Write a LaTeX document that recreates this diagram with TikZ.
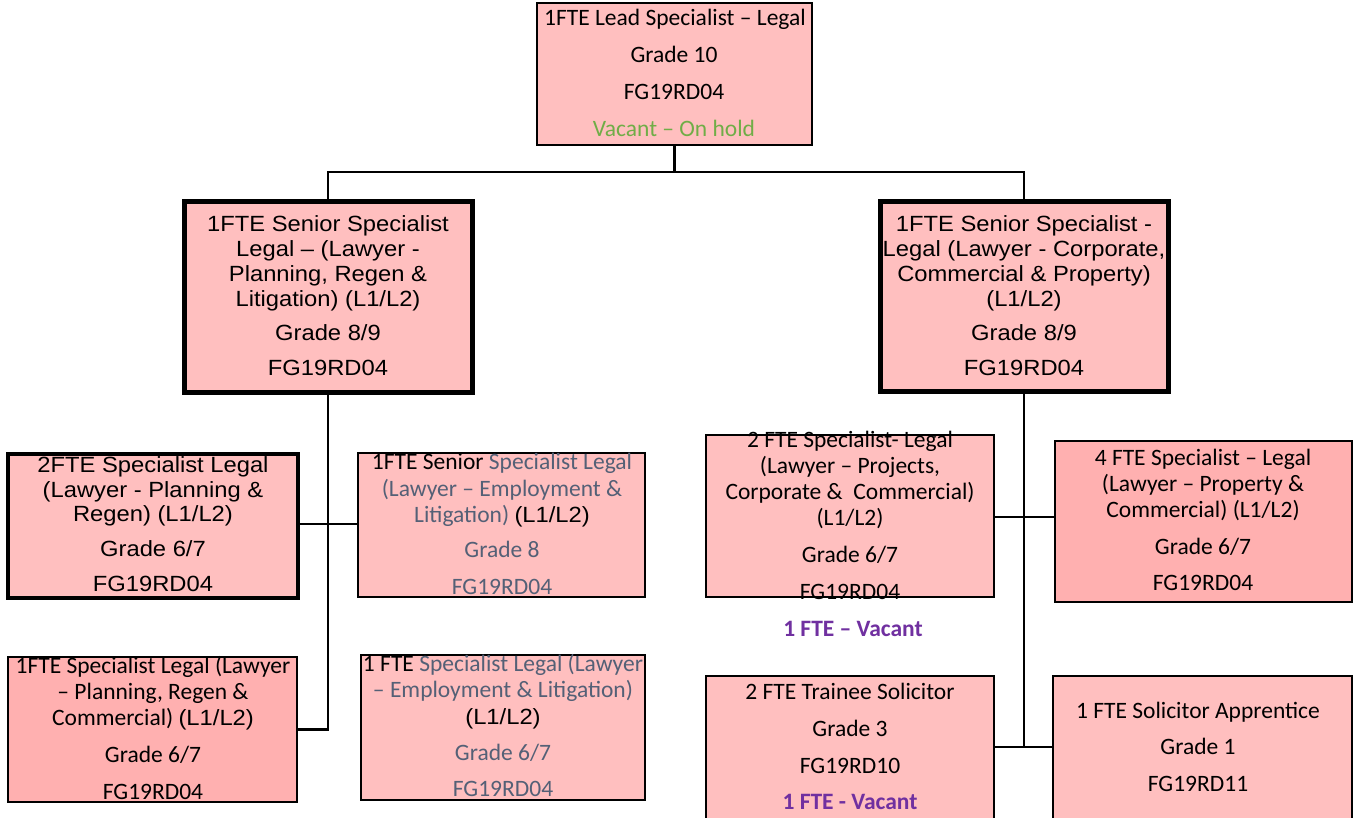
\documentclass[tikz,border=0pt]{standalone}
\usepackage{fontspec}
\newfontfamily\calb{Carlito}
\newfontfamily\arl[FakeStretch=1.08]{Liberation Sans}
\definecolor{pinkA}{RGB}{255,191,191}
\definecolor{pinkB}{RGB}{255,176,176}
\definecolor{slate}{RGB}{84,96,118}
\definecolor{vgreen}{RGB}{112,173,71}
\definecolor{vpurple}{RGB}{112,48,160}
\tikzset{
  box/.style={draw=black, line width=2.5pt, fill=pinkA, inner sep=0pt, outer sep=0pt, anchor=north west},
  thick box/.style={box, line width=5pt},
  ctxt/.style={anchor=base, inner sep=0pt, font=\calb\fontsize{23.5}{28}\selectfont},
  atxt/.style={anchor=base, inner sep=0pt, font=\arl\fontsize{22}{25}\selectfont},
  link/.style={draw=black, line width=2.5pt},
}
\begin{document}
\begin{tikzpicture}[x=1pt,y=-1pt]
\useasboundingbox (0,0) rectangle (1354,818);
% boxes
\node[box, minimum width=275pt, minimum height=142pt] (top) at (537,3) {};
\node[thick box, minimum width=288pt, minimum height=190pt] (ls) at (184,202) {};
\node[thick box, minimum width=288pt, minimum height=189pt] (rs) at (880,202) {};
\node[box, line width=4.5pt, minimum width=290pt, minimum height=144pt] (a) at (8,454) {};
\node[box, minimum width=287pt, minimum height=144pt] (b) at (358,453) {};
\node[box, fill=pinkB, minimum width=289pt, minimum height=145pt] (c) at (8,657) {};
\node[box, minimum width=284pt, minimum height=145pt] (d) at (361,655) {};
\node[box, minimum width=288pt, minimum height=162pt] (e) at (706,435) {};
\node[box, fill=pinkB, minimum width=297pt, minimum height=161pt] (f) at (1055,441) {};
\node[box, minimum width=288pt, minimum height=160pt] (g) at (706,676) {};
\node[box, minimum width=299pt, minimum height=160pt] (h) at (1053,676) {};
% connectors
\coordinate (j1) at (674.5,172);
\coordinate (r1) at (1024,517);
\coordinate (r2) at (1024,747);
\coordinate (l1) at (328,524);
\path[link] (top.south) -- (j1);
\path[link] (ls.north) -- (ls.north |- j1) -- (rs.north |- j1) -- (rs.north);
\path[link] (ls.south) |- (c.east);
\path[link] (l1 -| a.east) -- (l1 -| b.west);
\path[link] (rs.south) -- (r2);
\path[link] (r1 -| e.east) -- (r1 -| f.west);
\path[link] (r2 -| g.east) -- (r2 -| h.west);
% top texts
\node[ctxt] (t1) at (675,26) {1FTE Lead Specialist – Legal};
\node[ctxt] (t2) at (674,63) {Grade 10};
\node[ctxt] (t3) at (674,100) {FG19RD04};
\node[ctxt, text=vgreen] (t4) at (674,137) {Vacant – On hold};
% left senior
\node[atxt] (ls1) at (328,232) {1FTE Senior Specialist};
\node[atxt] (ls2) at (328,257) {Legal – (Lawyer -};
\node[atxt] (ls3) at (328,281) {Planning, Regen \&};
\node[atxt] (ls4) at (328,306) {Litigation) (L1/L2)};
\node[atxt] (ls5) at (328,340) {Grade 8/9};
\node[atxt] (ls6) at (328,375) {FG19RD04};
% right senior
\node[atxt] (rs1) at (1024,232) {1FTE Senior Specialist -};
\node[atxt] (rs2) at (1024,257) {Legal (Lawyer - Corporate,};
\node[atxt] (rs3) at (1024,281) {Commercial \& Property)};
\node[atxt] (rs4) at (1024,306) {(L1/L2)};
\node[atxt] (rs5) at (1024,340) {Grade 8/9};
\node[atxt] (rs6) at (1024,375) {FG19RD04};
% a
\node[atxt] (a1) at (153,472) {2FTE Specialist Legal};
\node[atxt] (a2) at (153,497) {(Lawyer - Planning \&};
\node[atxt] (a3) at (153,521) {Regen) (L1/L2)};
\node[atxt] (a4) at (153,556) {Grade 6/7};
\node[atxt] (a5) at (153,591) {FG19RD04};
% b
\node[ctxt] (b1) at (502,469) {1FTE Senior \textcolor{slate}{Specialist Legal}};
\node[ctxt, text=slate] (b2) at (502,496) {(Lawyer – Employment \&};
\node[ctxt, text=slate] (b3) at (502,522) {Litigation) {\arl\fontsize{22}{25}\selectfont\color{black}(L1/L2)}};
\node[ctxt, text=slate] (b4) at (502,557) {Grade 8};
\node[ctxt, text=slate] (b5) at (502,594) {FG19RD04};
% c
\node[ctxt] (c1) at (153,673) {1FTE Specialist Legal (Lawyer};
\node[ctxt] (c2) at (153,699) {– Planning, Regen \&};
\node[ctxt] (c3) at (153,725) {Commercial) {\arl\fontsize{22}{25}\selectfont(L1/L2)}};
\node[ctxt] (c4) at (153,762) {Grade 6/7};
\node[ctxt] (c5) at (153,799) {FG19RD04};
% d
\node[ctxt] (d1) at (503,671) {1 FTE \textcolor{slate}{Specialist Legal (Lawyer}};
\node[ctxt, text=slate] (d2) at (503,697) {– Employment \& Litigation)};
\node[atxt] (d3) at (503,724) {(L1/L2)};
\node[ctxt, text=slate] (d4) at (503,760) {Grade 6/7};
\node[ctxt, text=slate] (d5) at (503,796) {FG19RD04};
% e
\node[ctxt] (e1) at (850,447) {2 FTE Specialist- Legal};
\node[ctxt] (e2) at (850,473) {(Lawyer – Projects,};
\node[ctxt] (e3) at (850,499) {Corporate \&\ \ Commercial)};
\node[ctxt] (e4) at (850,525) {(L1/L2)};
\node[ctxt] (e5) at (850,562) {Grade 6/7};
\node[ctxt] (e6) at (850,599) {FG19RD04};
\node[ctxt, text=vpurple, font=\calb\bfseries\fontsize{23.5}{28}\selectfont] (e7) at (853,636) {1 FTE – Vacant};
% f
\node[ctxt] (f1) at (1203,465) {4 FTE Specialist – Legal};
\node[ctxt] (f2) at (1203,491) {(Lawyer – Property \&};
\node[ctxt] (f3) at (1203,517) {Commercial) (L1/L2)};
\node[ctxt] (f4) at (1203,554) {Grade 6/7};
\node[ctxt] (f5) at (1203,590) {FG19RD04};
% g
\node[ctxt] (g1) at (850,699) {2 FTE Trainee Solicitor};
\node[ctxt] (g2) at (850,736) {Grade 3};
\node[ctxt] (g3) at (850,773) {FG19RD10};
\node[ctxt, text=vpurple, font=\calb\bfseries\fontsize{23.5}{28}\selectfont] (g4) at (850,809) {1 FTE - Vacant};
% h
\node[ctxt] (h1) at (1198,718) {1 FTE Solicitor Apprentice};
\node[ctxt] (h2) at (1198,754) {Grade 1};
\node[ctxt] (h3) at (1198,791) {FG19RD11};
\end{tikzpicture}
\end{document}
